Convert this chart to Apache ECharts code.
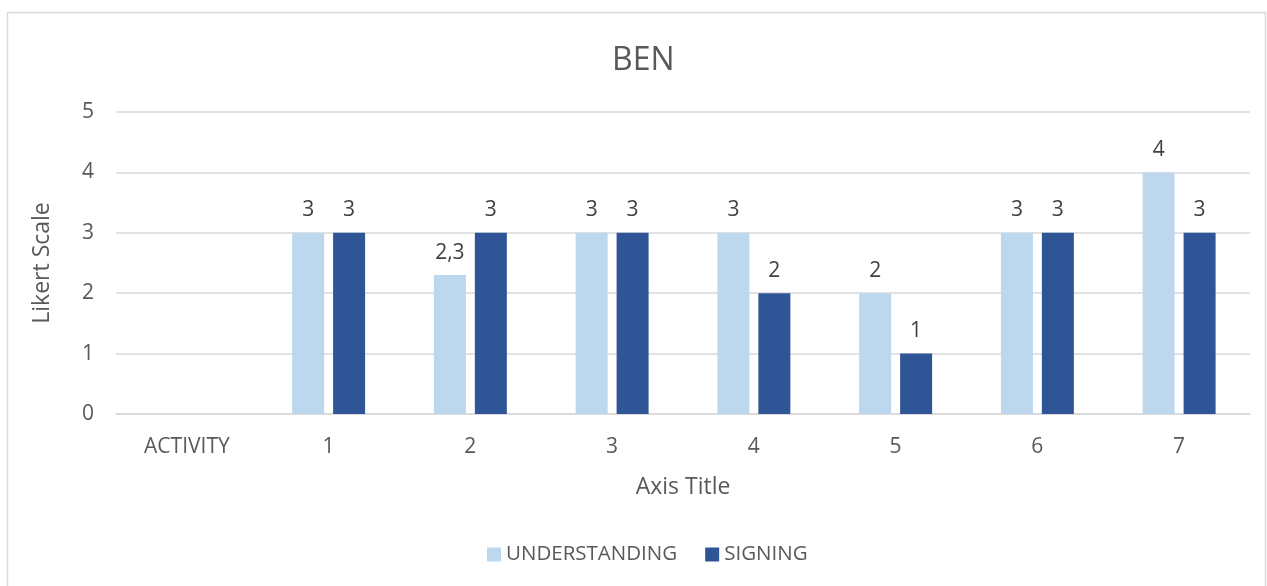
<!DOCTYPE html>
<html>
<head>
<meta charset="utf-8">
<script src="https://cdn.jsdelivr.net/npm/echarts@6/dist/echarts.min.js"></script>
<style>
  html, body { margin: 0; padding: 0; background: #fff; }
  #chart { width: 1267px; height: 586px; }
</style>
</head>
<body>
<div id="chart"></div>
<script>
// Activity categories along the x axis
const categories = ['ACTIVITY', '1', '2', '3', '4', '5', '6', '7'];
// Likert ratings per activity
const understanding = [null, 3, 2.3, 3, 3, 2, 3, 4];
const signing = [null, 3, 3, 3, 2, 1, 3, 3];
const yTicks = [0, 1, 2, 3, 4, 5];

const FONT = '"Open Sans", "Liberation Sans", sans-serif';
const fmt = p => String(p.value).replace('.', ',');

const chart = echarts.init(document.getElementById('chart'));
chart.setOption({
  animation: false,
  textStyle: { fontFamily: FONT },
  graphic: [{
    type: 'rect',
    shape: { x: 7.5, y: 12.5, width: 1258, height: 600 },
    style: { fill: 'none', stroke: '#d9d9d9', lineWidth: 1.5 },
    silent: true
  }],
  title: {
    text: 'BEN',
    left: 607,
    top: 40,
    textStyle: { fontFamily: FONT, fontSize: 32, fontWeight: 'normal', color: '#595959' }
  },
  legend: {
    bottom: 16,
    left: 482,
    itemWidth: 14,
    itemHeight: 14,
    itemGap: 28,
    icon: 'rect',
    textStyle: { fontFamily: FONT, fontSize: 20.5, color: '#595959' },
    data: ['UNDERSTANDING', 'SIGNING']
  },
  grid: { left: 116, right: 17, top: 112, bottom: 172 },
  xAxis: {
    type: 'category',
    data: categories,
    name: 'Axis Title',
    nameLocation: 'middle',
    nameGap: 62,
    nameTextStyle: { fontFamily: FONT, fontSize: 23, color: '#595959' },
    axisLine: { lineStyle: { color: '#d9d9d9', width: 1.5 } },
    axisTick: { show: false },
    axisLabel: { fontFamily: FONT, fontSize: 21, color: '#595959', margin: 23 }
  },
  yAxis: {
    type: 'value',
    min: yTicks[0],
    max: yTicks[yTicks.length - 1],
    interval: 1,
    name: 'Likert Scale',
    nameLocation: 'middle',
    nameGap: 62,
    nameTextStyle: { fontFamily: FONT, fontSize: 23, color: '#595959' },
    axisLine: { show: false },
    axisTick: { show: false },
    axisLabel: { fontFamily: FONT, fontSize: 21, color: '#595959', margin: 22 },
    splitLine: { lineStyle: { color: '#d9d9d9', width: 1.5 } }
  },
  series: [
    {
      name: 'UNDERSTANDING',
      type: 'bar',
      data: understanding,
      barWidth: 32,
      barGap: '28%',
      itemStyle: { color: '#bdd7ee' },
      label: { show: true, position: 'top', distance: 12, formatter: fmt, fontFamily: FONT, fontSize: 21, color: '#404040' }
    },
    {
      name: 'SIGNING',
      type: 'bar',
      data: signing,
      barWidth: 32,
      itemStyle: { color: '#2f5597' },
      label: { show: true, position: 'top', distance: 12, formatter: fmt, fontFamily: FONT, fontSize: 21, color: '#404040' }
    }
  ]
});
</script>
</body>
</html>
